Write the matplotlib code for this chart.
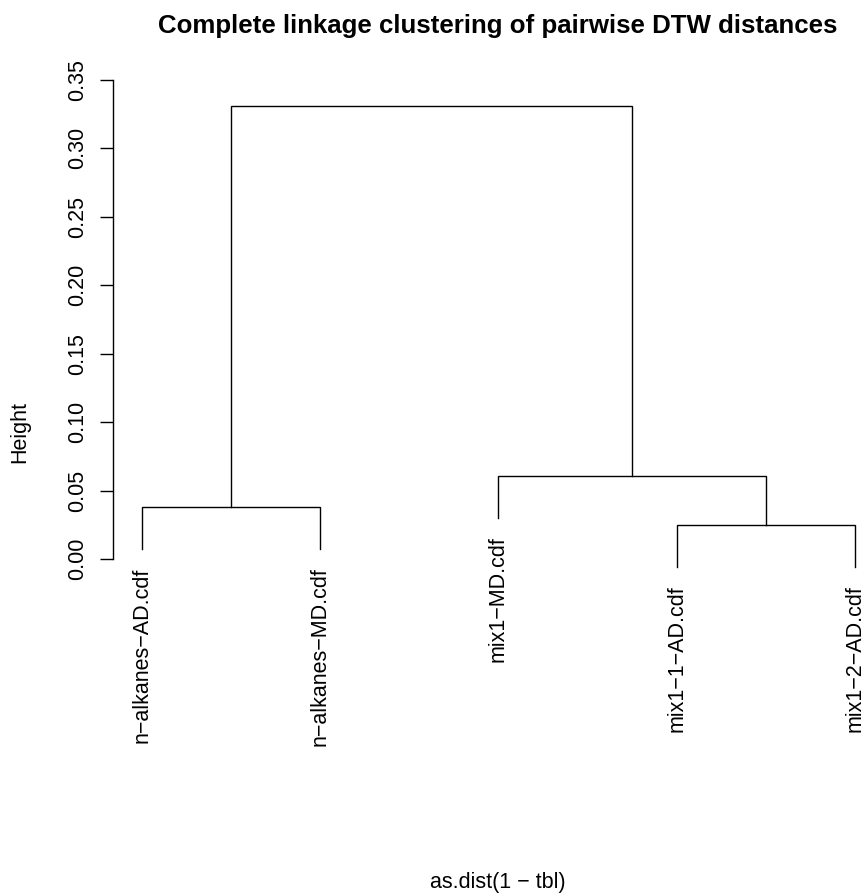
import matplotlib
matplotlib.use("Agg")
import matplotlib.pyplot as plt
import numpy as np

plt.rcParams['font.family'] = ['Liberation Sans', 'DejaVu Sans']

# Leaves in plotting order (left to right)
labels = ["n-alkanes-AD.cdf", "n-alkanes-MD.cdf", "mix1-MD.cdf",
          "mix1-1-AD.cdf", "mix1-2-AD.cdf"]

# hclust-style merge table: negative = leaf (1-based), positive = earlier merge
merge_left = [-4, -1, -3, 2]
merge_right = [-5, -2, 1, 3]
merge_height = [0.0251, 0.0382, 0.0609, 0.331]

yticks = [0.00, 0.05, 0.10, 0.15, 0.20, 0.25, 0.30, 0.35]

heights = np.array(merge_height)
hang = 0.1 * (heights.max() - heights.min())

fig = plt.figure(figsize=(8.62, 8.94), dpi=100)
ax = fig.add_axes([0.1313, 0.34407, 0.8936, 0.56644])

node_x = {}
node_y = {}


def child_pos(c, parent_h):
    # position and top of a child (leaf or cluster)
    if c < 0:
        return c * -1, parent_h - hang
    return node_x[c], node_y[c]


for i, (l, r, h) in enumerate(zip(merge_left, merge_right, merge_height), start=1):
    xl, yl = child_pos(l, h)
    xr, yr = child_pos(r, h)
    ax.plot([xl, xl, xr, xr], [yl, h, h, yr], color='black', lw=1.0,
            clip_on=False, solid_joinstyle='miter')
    node_x[i] = (xl + xr) / 2
    node_y[i] = h
    # leaf labels
    for c, xc, yc in [(l, xl, yl), (r, xr, yr)]:
        if c < 0:
            ax.annotate(labels[-c - 1].replace("-", "\u2212"), xy=(xc, yc),
                        xytext=(0, -13.5), textcoords='offset points',
                        rotation=90, ha='center', va='top', fontsize=15.5,
                        annotation_clip=False)

ax.set_xlim(0.84, 5.16)
ax.set_ylim(-0.02, 0.35)
for s in ['top', 'right', 'bottom']:
    ax.spines[s].set_visible(False)
ax.spines['left'].set_bounds(0, 0.35)
ax.spines['left'].set_linewidth(1.0)
ax.set_xticks([])
ax.set_yticks(yticks)
ax.set_yticklabels(["%.2f" % t for t in yticks])
ax.tick_params(axis='y', length=9.7, width=1.0, pad=8, labelsize=15.5,
               labelrotation=90)
for lab in ax.get_yticklabels():
    lab.set_va('center')

fig.text(498 / 862, 1 - 33 / 894, "Complete linkage clustering of pairwise DTW distances",
         ha='center', va='baseline', fontsize=18.6, fontweight='bold')
fig.text(20 / 862, 1 - 432 / 894, "Height", rotation=90, ha='center', va='center',
         fontsize=15.5)
fig.text(498 / 862, 6 / 894, "as.dist(1 \u2212 tbl)", ha='center', va='baseline',
         fontsize=15.5)

fig.savefig("out.png", dpi=100)
